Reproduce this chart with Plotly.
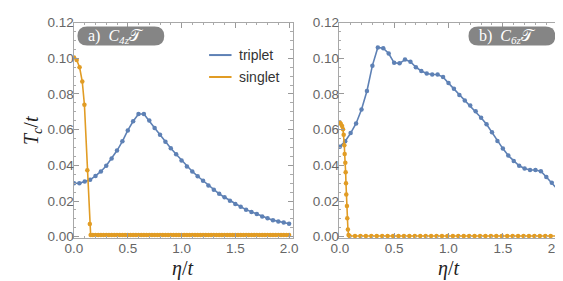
import numpy as np
import plotly.graph_objects as go

W, H = 563, 281

# ---------------- data ----------------
eta_a_triplet = [0.00, 0.05, 0.10, 0.15, 0.20, 0.25, 0.30, 0.35, 0.40, 0.45, 0.50,
                 0.55, 0.60, 0.65, 0.70, 0.75, 0.80, 0.85, 0.90, 0.95, 1.00,
                 1.05, 1.10, 1.15, 1.20, 1.25, 1.30, 1.35, 1.40, 1.45, 1.50,
                 1.55, 1.60, 1.65, 1.70, 1.75, 1.80, 1.85, 1.90, 1.95, 2.00]
tc_a_triplet = [0.0300, 0.0300, 0.0310, 0.0319, 0.0341, 0.0366, 0.0398, 0.0439, 0.0483, 0.0535, 0.0596,
                0.0647, 0.0688, 0.0688, 0.0652, 0.0610, 0.0572, 0.0533, 0.0496, 0.0462, 0.0428,
                0.0394, 0.0366, 0.0339, 0.0314, 0.0287, 0.0264, 0.0241, 0.0221, 0.0202, 0.0184,
                0.0168, 0.0152, 0.0139, 0.0127, 0.0114, 0.0104, 0.0093, 0.0086, 0.0080, 0.0073]

eta_a_singlet = [0.000, 0.025, 0.052, 0.077, 0.097, 0.124, 0.147,
                 0.155, 0.175, 0.200, 0.225, 0.250, 0.275, 0.300, 0.325, 0.350, 0.375,
                 0.400, 0.425, 0.450, 0.475, 0.500, 0.525, 0.550, 0.575, 0.600, 0.625,
                 0.650, 0.675, 0.700, 0.725, 0.750, 0.775, 0.800, 0.825, 0.850, 0.875,
                 0.900, 0.925, 0.950, 0.975, 1.000, 1.025, 1.050, 1.075, 1.100, 1.125,
                 1.150, 1.175, 1.200, 1.225, 1.250, 1.275, 1.300, 1.325, 1.350, 1.375,
                 1.400, 1.425, 1.450, 1.475, 1.500, 1.525, 1.550, 1.575, 1.600, 1.625,
                 1.650, 1.675, 1.700, 1.725, 1.750, 1.775, 1.800, 1.825, 1.850, 1.875,
                 1.900, 1.925, 1.950, 1.975, 2.000]
tc_a_singlet = [0.1005, 0.0991, 0.0950, 0.0870, 0.0740, 0.0373, 0.0072,
                0.0010, 0.0010, 0.0010, 0.0010, 0.0010, 0.0010, 0.0010, 0.0010, 0.0010, 0.0010,
                0.0010, 0.0010, 0.0010, 0.0010, 0.0010, 0.0010, 0.0010, 0.0010, 0.0010, 0.0010,
                0.0010, 0.0010, 0.0010, 0.0010, 0.0010, 0.0010, 0.0010, 0.0010, 0.0010, 0.0010,
                0.0010, 0.0010, 0.0010, 0.0010, 0.0010, 0.0010, 0.0010, 0.0010, 0.0010, 0.0010,
                0.0010, 0.0010, 0.0010, 0.0010, 0.0010, 0.0010, 0.0010, 0.0010, 0.0010, 0.0010,
                0.0010, 0.0010, 0.0010, 0.0010, 0.0010, 0.0010, 0.0010, 0.0010, 0.0010, 0.0010,
                0.0010, 0.0010, 0.0010, 0.0010, 0.0010, 0.0010, 0.0010, 0.0010, 0.0010, 0.0010,
                0.0010, 0.0010, 0.0010, 0.0010, 0.0010]

eta_b_triplet = eta_a_triplet
tc_b_triplet = [0.0505, 0.0535, 0.0581, 0.0635, 0.0713, 0.0817, 0.0959, 0.1061, 0.1057, 0.1027, 0.0975,
                0.0972, 0.0993, 0.0981, 0.0950, 0.0929, 0.0915, 0.0909, 0.0909, 0.0895, 0.0861,
                0.0829, 0.0795, 0.0763, 0.0736, 0.0704, 0.0667, 0.0630, 0.0585, 0.0537, 0.0494,
                0.0455, 0.0425, 0.0398, 0.0383, 0.0374, 0.0374, 0.0367, 0.0335, 0.0302, 0.0267]

eta_b_singlet = [0.000, 0.009, 0.021, 0.030, 0.036, 0.042, 0.045, 0.051, 0.054, 0.057,
                 0.060, 0.066, 0.069, 0.075, 0.081, 0.090,
                 0.14, 0.19, 0.24, 0.29, 0.34, 0.39, 0.44, 0.49, 0.54, 0.59,
                 0.64, 0.69, 0.74, 0.79, 0.84, 0.89, 0.94, 0.99, 1.04, 1.09,
                 1.14, 1.19, 1.24, 1.29, 1.34, 1.39, 1.44, 1.49, 1.54, 1.59,
                 1.64, 1.69, 1.74, 1.79, 1.84, 1.89, 1.94, 2.00]
tc_b_singlet = [0.0640, 0.0633, 0.0620, 0.0603, 0.0571, 0.0513, 0.0464, 0.0415, 0.0362, 0.0300,
                0.0237, 0.0173, 0.0104, 0.0041, 0.0010, 0.0004,
                0.0004, 0.0004, 0.0004, 0.0004, 0.0004, 0.0004, 0.0004, 0.0004, 0.0004, 0.0004,
                0.0004, 0.0004, 0.0004, 0.0004, 0.0004, 0.0004, 0.0004, 0.0004, 0.0004, 0.0004,
                0.0004, 0.0004, 0.0004, 0.0004, 0.0004, 0.0004, 0.0004, 0.0004, 0.0004, 0.0004,
                0.0004, 0.0004, 0.0004, 0.0004, 0.0004, 0.0004, 0.0004, 0.0004]

x_ticks = [0.0, 0.5, 1.0, 1.5, 2.0]
x_tick_labels = ["0.0", "0.5", "1.0", "1.5", "2.0"]
y_ticks = [0.00, 0.02, 0.04, 0.06, 0.08, 0.10, 0.12]
y_tick_labels = ["0.00", "0.02", "0.04", "0.06", "0.08", "0.10", "0.12"]

series_names = ["triplet", "singlet"]
panel_labels = ["a)&nbsp;&nbsp;<i>C</i><sub><i>4z</i></sub>𝒯", "b)&nbsp;&nbsp;<i>C</i><sub><i>6z</i></sub>𝒯"]

BLUE = "#5E81B5"
ORANGE = "#E19C24"
FRAME = "#a8a8a8"
TICKFONT = dict(family="Liberation Sans, Arial, sans-serif", size=13.5, color="#666666")


def px_x(p):
    return p / W


def px_y(p):
    return 1 - p / H


fig = go.Figure()


def add_series(x, y, color, xa, ya):
    fig.add_trace(go.Scatter(
        x=x, y=y, mode="lines+markers", xaxis=xa, yaxis=ya, showlegend=False,
        line=dict(color=color, width=1.6),
        marker=dict(color=color, size=4.5),
        cliponaxis=True,
    ))


add_series(eta_a_triplet, tc_a_triplet, BLUE, "x", "y")
add_series(eta_a_singlet, tc_a_singlet, ORANGE, "x", "y")
add_series(eta_b_triplet, tc_b_triplet, BLUE, "x2", "y2")
add_series(eta_b_singlet, tc_b_singlet, ORANGE, "x2", "y2")

ydom = [px_y(234), px_y(8)]


def xaxis_cfg(dom, rng, anchor):
    return dict(
        domain=dom, range=rng, anchor=anchor,
        tickmode="array", tickvals=x_ticks, ticktext=x_tick_labels,
        ticks="inside", ticklen=5, tickwidth=1, tickcolor="#999999",
        minor=dict(dtick=0.1, tick0=0, ticks="inside", ticklen=2.5, tickcolor="#aaaaaa", showgrid=False),
        showline=True, linecolor=FRAME, linewidth=1, mirror="ticks",
        showgrid=False, zeroline=False, tickfont=TICKFONT, ticklabelstandoff=-2,
    )


def yaxis_cfg(anchor):
    return dict(
        domain=ydom, range=[-0.0008, 0.12], anchor=anchor,
        tickmode="array", tickvals=y_ticks, ticktext=y_tick_labels,
        ticks="inside", ticklen=5, tickwidth=1, tickcolor="#999999",
        minor=dict(dtick=0.005, tick0=0, ticks="inside", ticklen=2.5, tickcolor="#aaaaaa", showgrid=False),
        showline=True, linecolor=FRAME, linewidth=1, mirror="ticks",
        showgrid=False, zeroline=False, tickfont=TICKFONT, ticklabelstandoff=-4,
    )


fig.update_layout(
    width=W, height=H,
    margin=dict(l=0, r=0, t=0, b=0),
    paper_bgcolor="white", plot_bgcolor="white",
    xaxis=xaxis_cfg([px_x(58), px_x(283)], [-0.004, 2.036], "y"),
    yaxis=yaxis_cfg("x"),
    xaxis2=xaxis_cfg([px_x(330), px_x(558)], [-0.009, 2.036], "y2"),
    yaxis2=yaxis_cfg("x2"),
)

# axis titles
TITLEFONT = dict(family="Liberation Serif, Times New Roman, serif", size=20, color="#222222")
for cx in (170, 442):
    fig.add_annotation(x=px_x(cx), y=px_y(266), xref="paper", yref="paper",
                       text="<i>η</i>/<i>t</i>", showarrow=False, font=TITLEFONT,
                       xanchor="center", yanchor="middle")
fig.add_annotation(x=px_x(16), y=px_y(121), xref="paper", yref="paper",
                   text="<i>T</i><sub><i>c</i></sub>/<i>t</i>", showarrow=False, font=TITLEFONT,
                   textangle=-90, xanchor="center", yanchor="middle")


# rounded badges
def badge(x0, x1, y0, y1, label):
    r = (y1 - y0) / 2
    X = lambda p: px_x(p)
    Y = lambda p: px_y(p)
    path = (f"M {X(x0 + r)} {Y(y0)} L {X(x1 - r)} {Y(y0)} "
            f"Q {X(x1)} {Y(y0)} {X(x1)} {Y(y0 + r)} "
            f"Q {X(x1)} {Y(y1)} {X(x1 - r)} {Y(y1)} "
            f"L {X(x0 + r)} {Y(y1)} "
            f"Q {X(x0)} {Y(y1)} {X(x0)} {Y(y1 - r)} "
            f"Q {X(x0)} {Y(y0)} {X(x0 + r)} {Y(y0)} Z")
    fig.add_shape(type="path", path=path, xref="paper", yref="paper",
                  fillcolor="#858585", line=dict(width=0), layer="above")
    fig.add_annotation(x=px_x(x0 + 9), y=px_y((y0 + y1) / 2 + 1), xref="paper", yref="paper",
                       text=label, showarrow=False, xanchor="left", yanchor="middle",
                       font=dict(family="Liberation Serif, Times New Roman, serif", size=16, color="white"))


badge(62, 151, 12, 32, panel_labels[0])
badge(463, 552, 12, 32, panel_labels[1])

# legend (manual, line only)
for name, color, yy in zip(series_names, [BLUE, ORANGE], [42, 65]):
    fig.add_shape(type="line", xref="paper", yref="paper",
                  x0=px_x(197), x1=px_x(220), y0=px_y(yy), y1=px_y(yy),
                  line=dict(color=color, width=2))
    fig.add_annotation(x=px_x(226), y=px_y(yy), xref="paper", yref="paper",
                       text=name, showarrow=False, xanchor="left", yanchor="middle",
                       font=dict(family="Liberation Sans, Arial, sans-serif", size=14, color="#333333"))

fig.write_html("out.html")
